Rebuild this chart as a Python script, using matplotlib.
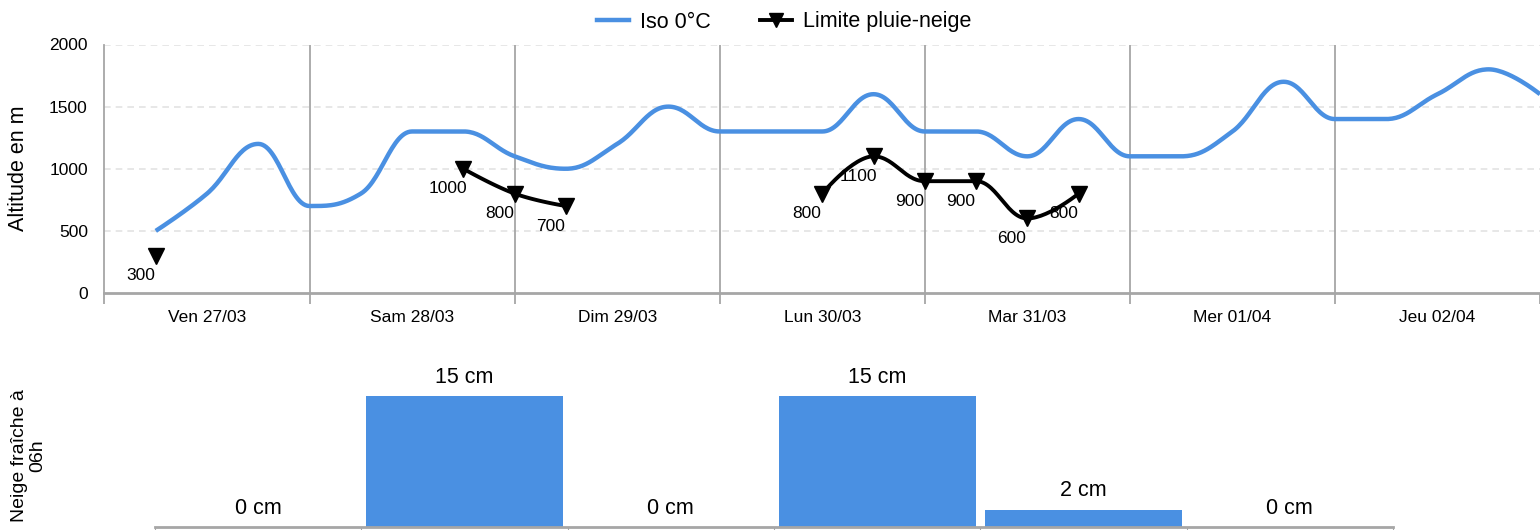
import matplotlib.pyplot as plt
import numpy as np

plt.rcParams['font.family'] = ['Liberation Sans', 'DejaVu Sans']

# values (hours counted from Ven 27/03 00h)
day_labels = ['Ven 27/03', 'Sam 28/03', 'Dim 29/03', 'Lun 30/03',
              'Mar 31/03', 'Mer 01/04', 'Jeu 02/04']
iso_hours = [6, 12, 18, 24, 30, 36, 42, 48, 54, 60, 66, 72, 78, 84,
             90, 96, 102, 108, 114, 120, 126, 132, 138, 144, 150, 156, 162, 168]
iso_alt = [500, 800, 1200, 700, 800, 1300, 1300, 1100, 1000, 1200, 1500, 1300,
           1300, 1300, 1600, 1300, 1300, 1100, 1400, 1100, 1100, 1300, 1700,
           1400, 1400, 1600, 1800, 1600]
# None splits the series where there is no value
limit_hours = [6, None, 42, 48, 54, None, 84, 90, 96, 102, 108, 114]
limit_alt = [300, None, 1000, 800, 700, None, 800, 1100, 900, 900, 600, 800]

snow_days = ['Ven 27/03', 'Sam 28/03', 'Dim 29/03', 'Lun 30/03',
             'Mar 31/03', 'Mer 01/04']
snow_cm = [0, 15, 0, 15, 2, 0]

BLUE = '#4a90e2'
GREY = '#a6a6a6'


def spline_path(xs, ys, steps=30):
    #highcharts style spline: bezier control points, flat at extremes
    n = len(xs)
    if n < 2:
        return np.array(xs, float), np.array(ys, float)
    left = [(xs[0], ys[0])] * n
    right = [(xs[0], ys[0])] * n
    for i in range(n):
        x, y = xs[i], ys[i]
        if i == 0 or i == n - 1:
            left[i] = (x, y)
            right[i] = (x, y)
            continue
        lx, ly = xs[i - 1], ys[i - 1]
        nx, ny = xs[i + 1], ys[i + 1]
        lcx = (1.5 * x + lx) / 2.5
        lcy = (1.5 * y + ly) / 2.5
        rcx = (1.5 * x + nx) / 2.5
        rcy = (1.5 * y + ny) / 2.5
        if rcx != lcx:
            corr = (rcy - lcy) * (rcx - x) / (rcx - lcx) + y - rcy
            lcy += corr
            rcy += corr
        if lcy > ly and lcy > y:
            lcy = max(ly, y)
            rcy = 2 * y - lcy
        elif lcy < ly and lcy < y:
            lcy = min(ly, y)
            rcy = 2 * y - lcy
        if rcy > ny and rcy > y:
            rcy = max(ny, y)
            lcy = 2 * y - rcy
        elif rcy < ny and rcy < y:
            rcy = min(ny, y)
            lcy = 2 * y - rcy
        left[i] = (lcx, lcy)
        right[i] = (rcx, rcy)
    px, py = [], []
    t = np.linspace(0, 1, steps)
    for i in range(1, n):
        p0 = np.array([xs[i - 1], ys[i - 1]], float)
        p1 = np.array(right[i - 1], float)
        p2 = np.array(left[i], float)
        p3 = np.array([xs[i], ys[i]], float)
        pts = (np.outer((1 - t) ** 3, p0) + np.outer(3 * (1 - t) ** 2 * t, p1)
               + np.outer(3 * (1 - t) * t ** 2, p2) + np.outer(t ** 3, p3))
        px.extend(pts[:, 0])
        py.extend(pts[:, 1])
    return np.array(px), np.array(py)


def split_segments(xs, ys):
    #cuts the lists where a None stands
    segs = []
    cur_x, cur_y = [], []
    for x, y in zip(xs, ys):
        if x is None:
            if cur_x:
                segs.append((cur_x, cur_y))
            cur_x, cur_y = [], []
        else:
            cur_x.append(x)
            cur_y.append(y)
    if cur_x:
        segs.append((cur_x, cur_y))
    return segs


fig = plt.figure(figsize=(15.4, 5.3), dpi=100)
W, H = 1540.0, 530.0

# top chart: altitudes
ax = fig.add_axes([104.5 / W, 1 - 293 / H, (W - 104.5) / W, 248.5 / H])
ax.set_xlim(0, (W - 104.5) / 206.0 * 24)
ax.set_ylim(0, 2000)
ax.set_yticks([0, 500, 1000, 1500, 2000])
for v in [500, 1000, 1500, 2000]:
    ax.axhline(v, color='#e3e3e3', lw=1.2, ls=(0, (4, 3)), zorder=0)
for d in range(1, 7):
    ax.axvline(d * 24, color=GREY, lw=1.3, zorder=0)
for side in ['top', 'right']:
    ax.spines[side].set_visible(False)
ax.spines['left'].set_color(GREY)
ax.spines['left'].set_linewidth(1.3)
ax.spines['bottom'].set_color(GREY)
ax.spines['bottom'].set_linewidth(2)
ax.set_xticks([d * 24 for d in range(8)])
ax.set_xticklabels([])
ax.set_xticks([d * 24 + 12 for d in range(7)], minor=True)
ax.set_xticklabels(day_labels, minor=True, fontsize=12.5)
ax.tick_params(axis='x', which='major', length=8, width=1.3, color=GREY)
ax.tick_params(axis='x', which='minor', length=0, pad=12)
ax.tick_params(axis='y', length=0, labelsize=12.5, pad=12)

sx, sy = spline_path(iso_hours, iso_alt)
ax.plot(sx, sy, color=BLUE, lw=3.2, solid_capstyle='butt', zorder=3)

for seg_x, seg_y in split_segments(limit_hours, limit_alt):
    lx, ly = spline_path(seg_x, seg_y)
    ax.plot(lx, ly, color='black', lw=2.8, zorder=4)
    ax.plot(seg_x, seg_y, ls='none', marker='v', ms=12, color='black',
            zorder=5, clip_on=False)
    for x, y in zip(seg_x, seg_y):
        ax.annotate(str(y), (x, y), xytext=(-11, -14.5), textcoords='offset points',
                    ha='center', va='center', fontsize=12.5, zorder=6)

fig.text(19 / W, 1 - 168 / H, 'Altitude en m', rotation=90, ha='center',
         va='center', fontsize=15.5)

# legend
iso_handle, = ax.plot([], [], color=BLUE, lw=3.2, label='Iso 0°C')
lim_handle, = ax.plot([], [], color='black', lw=2.8, marker='v', ms=10,
                      label='Limite pluie-neige')
fig.legend(handles=[iso_handle, lim_handle], loc='center', ncol=2,
           bbox_to_anchor=(784 / W, 1 - 22 / H), frameon=False, fontsize=15.5,
           handlelength=1.5, columnspacing=2.3, handletextpad=0.5)

# bottom chart: fresh snow
bx = fig.add_axes([155 / W, 3 / H, 1238 / W, 172 / H])
pos = np.arange(len(snow_cm))
bx.bar(pos, snow_cm, width=0.955, color=BLUE, zorder=2)
bx.set_xlim(-0.5, len(snow_cm) - 0.5)
bx.set_ylim(0, 172 / 131.0 * 15)
for p, v in zip(pos, snow_cm):
    bx.annotate('%d cm' % v, (p, v), xytext=(0, 6), textcoords='offset points',
                ha='center', va='bottom', fontsize=15.5)
for side in ['top', 'right', 'left']:
    bx.spines[side].set_visible(False)
bx.spines['bottom'].set_color(GREY)
bx.spines['bottom'].set_linewidth(2)
bx.set_yticks([])
bx.set_xticks(np.arange(-0.5, len(snow_cm), 1.0))
bx.set_xticklabels([])
bx.tick_params(axis='x', length=3, color=GREY)

fig.text(29 / W, 1 - 456 / H, 'Neige fraîche à\n06h', rotation=90,
         ha='center', va='center', fontsize=14, multialignment='center',
         linespacing=1.1)

fig.savefig('out.png', dpi=100)
